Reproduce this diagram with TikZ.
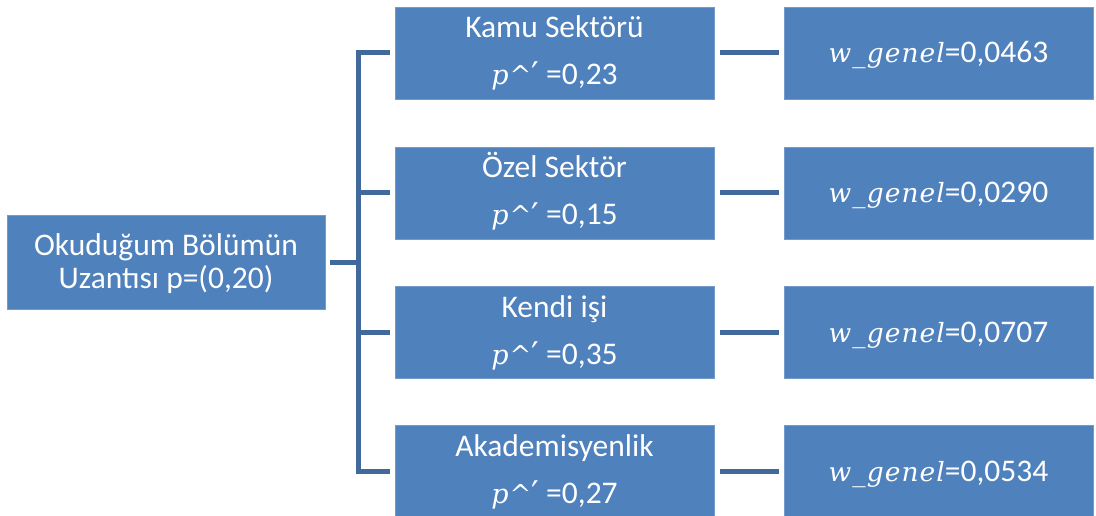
\documentclass[tikz,border=0pt]{standalone}
\usepackage{fontspec}
\setmainfont{Carlito}
\newfontfamily\mitfont{DejaVu Serif}
\newfontfamily\varfont{DejaVu Serif}[LetterSpace=4]
\definecolor{boxblue}{HTML}{4F81BD}
\definecolor{linkblue}{HTML}{41699C}
% italic symbols set apart from the sans text
\newcommand\pcaret{{\fontsize{27}{27}\selectfont\mitfont\itshape p\kern1pt}{\fontsize{26}{26}\selectfont\mitfont\textasciicircum}{\fontsize{34}{34}\selectfont\mitfont\raisebox{-2pt}{′}}}
\newcommand\wgen{{\fontsize{26.5}{26.5}\selectfont\varfont\itshape w\_genel}}
\begin{document}
\begin{tikzpicture}[x=1pt,y=-1pt,
  box/.style={rectangle, fill=boxblue, draw=boxblue!80!white, line width=0.8pt, inner sep=0pt},
  rootbox/.style={box, minimum width=318pt, minimum height=94pt},
  midbox/.style={box, minimum width=319pt, minimum height=92pt},
  endbox/.style={box, minimum width=309pt, minimum height=92pt},
  lbl/.style={text=white, font=\fontsize{31.5}{33}\selectfont, anchor=base, inner sep=0pt},
  link/.style={draw=linkblue, line width=5pt}]
\useasboundingbox (0,0) rectangle (1096,516);
\clip (0,0) rectangle (1096,516);

% root
\node[rootbox] (root) at (166,262) {};
\node[lbl] (rootA) at ([yshift=7pt]root.center) {Okuduğum Bölümün};
\node[lbl] (rootB) at ([yshift=-26pt]root.center) {Uzantısı p=(0,20)};

% categories
\node[midbox] (m1) at (554.5,53) {};
\node[midbox] (m2) at (554.5,193) {};
\node[midbox] (m3) at (554.5,332) {};
\node[midbox] (m4) at (554.5,471) {};

\node[lbl] (m1a) at ([yshift=15pt]m1.center) {Kamu Sektörü};
\node[lbl] (m1b) at ([yshift=-32pt]m1.center) {\pcaret\ =0,23};
\node[lbl] (m2a) at ([yshift=15pt]m2.center) {Özel Sektör};
\node[lbl] (m2b) at ([yshift=-32pt]m2.center) {\pcaret\ =0,15};
\node[lbl] (m3a) at ([yshift=15pt]m3.center) {Kendi işi};
\node[lbl] (m3b) at ([yshift=-32pt]m3.center) {\pcaret\ =0,35};
\node[lbl] (m4a) at ([yshift=15pt]m4.center) {Akademisyenlik};
\node[lbl] (m4b) at ([yshift=-32pt]m4.center) {\pcaret\ =0,27};

% weights
\node[endbox] (e1) at (938.5,53) {};
\node[endbox] (e2) at (938.5,193) {};
\node[endbox] (e3) at (938.5,332) {};
\node[endbox] (e4) at (938.5,471) {};
\node[lbl] (e1t) at ([yshift=-10pt]e1.center) {\wgen=0,0463};
\node[lbl] (e2t) at ([yshift=-10pt]e2.center) {\wgen=0,0290};
\node[lbl] (e3t) at ([yshift=-10pt]e3.center) {\wgen=0,0707};
\node[lbl] (e4t) at ([yshift=-10pt]e4.center) {\wgen=0,0534};

% bracket connectors
\coordinate (trunk) at (358,262);
\draw[link] ([xshift=5pt]root.east) -- (trunk);
\draw[link] ([xshift=-5pt]m1.west) -- (trunk |- m1) -- (trunk |- m4) -- ([xshift=-5pt]m4.west);
\draw[link] (trunk |- m2) -- ([xshift=-5pt]m2.west);
\draw[link] (trunk |- m3) -- ([xshift=-5pt]m3.west);

% category to weight links
\foreach \i in {1,2,3,4}
  \draw[link] ([xshift=6pt]m\i.east) -- ([xshift=-5pt]e\i.west);
\end{tikzpicture}
\end{document}
